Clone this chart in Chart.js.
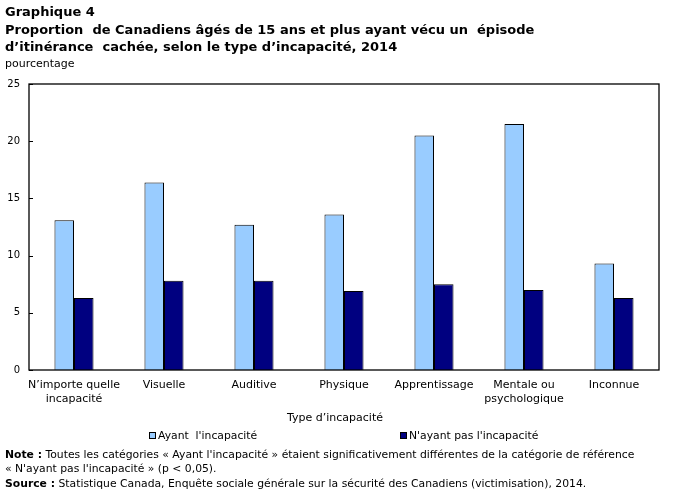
<!DOCTYPE html>
<html lang="fr">
<head>
<meta charset="utf-8">
<script src="https://cdn.jsdelivr.net/npm/chart.js@4.4.1/dist/chart.umd.min.js"></script>
<style>
    html, body { margin: 0; padding: 0; background: #fff; }
    #wrap { position: relative; width: 681px; height: 492px; overflow: hidden; }
    #wrap canvas { position: absolute; left: 0; top: 0; }
    .txt { position: absolute; color: #000; white-space: nowrap; font-family: "DejaVu Sans", sans-serif; font-size: 11px; line-height: 14px; }
    .small { font-size: 10.8px; }
    .title { left: 5px; top: 3px; font-weight: bold; font-size: 13px; line-height: 17.5px; }
    .sq { display: inline-block; width: 5px; height: 5px; border: 1px solid #000; margin-right: 2px; vertical-align: 0px; }
</style>
</head>
<body>
<div id="wrap">
    <canvas id="chart" width="681" height="492"></canvas>
    <div class="txt title">Graphique 4<br>Proportion&nbsp; de Canadiens âgés de 15 ans et plus ayant vécu un&nbsp; épisode<br>d’itinérance&nbsp; cachée, selon le type d’incapacité, 2014</div>
    <div class="txt" style="left:5px; top:57px;">pourcentage</div>
    <div class="txt" style="left:0; width:670px; text-align:center; top:411px;">Type d’incapacité</div>
    <div class="txt small" style="left:149px; top:429px;"><span class="sq" id="sqA"></span>Ayant&nbsp; l'incapacité</div>
    <div class="txt small" style="left:400px; top:429px;"><span class="sq" id="sqB"></span>N'ayant pas l'incapacité</div>
    <div class="txt small" style="left:5px; top:448px;"><b>Note :</b> Toutes les catégories « Ayant l'incapacité » étaient significativement différentes de la catégorie de référence<br>« N'ayant pas l'incapacité » (p &lt; 0,05).</div>
    <div class="txt small" style="left:5px; top:477px;"><b>Source :</b> Statistique Canada, Enquête sociale générale sur la sécurité des Canadiens (victimisation), 2014.</div>
</div>
<script>
// Données
const categories = [
    ['N’importe quelle', 'incapacité'],
    'Visuelle',
    'Auditive',
    'Physique',
    'Apprentissage',
    ['Mentale ou', 'psychologique'],
    'Inconnue'
];
const ayantIncapacite = [13.1, 16.4, 12.7, 13.6, 20.5, 21.5, 9.3];
const nAyantPasIncapacite = [6.3, 7.8, 7.8, 6.9, 7.5, 7.0, 6.3];
const yTicks = [0, 5, 10, 15, 20, 25];

const COLOR_A = '#99ccff';
const COLOR_B = '#000080';
document.getElementById('sqA').style.background = COLOR_A;
document.getElementById('sqB').style.background = COLOR_B;

// cadre + petites marques de graduation à l'intérieur
const frameBox = {
    id: 'frameBox',
    afterDatasetsDraw(chart) {
        const { ctx, chartArea: a, scales } = chart;
        ctx.save();
        ctx.strokeStyle = '#000';
        ctx.lineWidth = 1;
        ctx.beginPath();
        yTicks.forEach(v => {
            const y = Math.round(scales.y.getPixelForValue(v)) + 0.5;
            ctx.moveTo(a.left, y);
            ctx.lineTo(a.left + 4, y);
        });
        ctx.stroke();
        ctx.lineWidth = 1.3;
        ctx.strokeRect(a.left, a.top, a.right - a.left, a.bottom - a.top);
        ctx.restore();
    }
};

new Chart(document.getElementById('chart'), {
    type: 'bar',
    data: {
        labels: categories,
        datasets: [
            { label: 'Ayant  l\'incapacité', data: ayantIncapacite, backgroundColor: COLOR_A, borderColor: '#000', borderWidth: 1 },
            { label: 'N\'ayant pas l\'incapacité', data: nAyantPasIncapacite, backgroundColor: COLOR_B, borderColor: '#000', borderWidth: 1 }
        ]
    },
    options: {
        responsive: false,
        animation: false,
        devicePixelRatio: 1,
        layout: { padding: { left: 0, top: 84, right: 22, bottom: 72 } },
        datasets: { bar: { categoryPercentage: 0.434, barPercentage: 1.0 } },
        plugins: { legend: { display: false }, tooltip: { enabled: false }, title: { display: false } },
        scales: {
            x: {
                grid: { display: false, drawTicks: false },
                border: { display: false },
                ticks: {
                    color: '#000', padding: 8, maxRotation: 0, autoSkip: false,
                    font: { family: '"DejaVu Sans", sans-serif', size: 11, lineHeight: 1.27 }
                },
                afterFit: s => { s.height = 50; }
            },
            y: {
                min: 0, max: 25,
                grid: { display: false, drawTicks: false },
                border: { display: false },
                ticks: {
                    stepSize: 5, color: '#000', padding: 9,
                    font: { family: '"DejaVu Sans", sans-serif', size: 10 }
                },
                afterFit: s => { s.width = 29; }
            }
        }
    },
    plugins: [frameBox]
});
</script>
</body>
</html>
